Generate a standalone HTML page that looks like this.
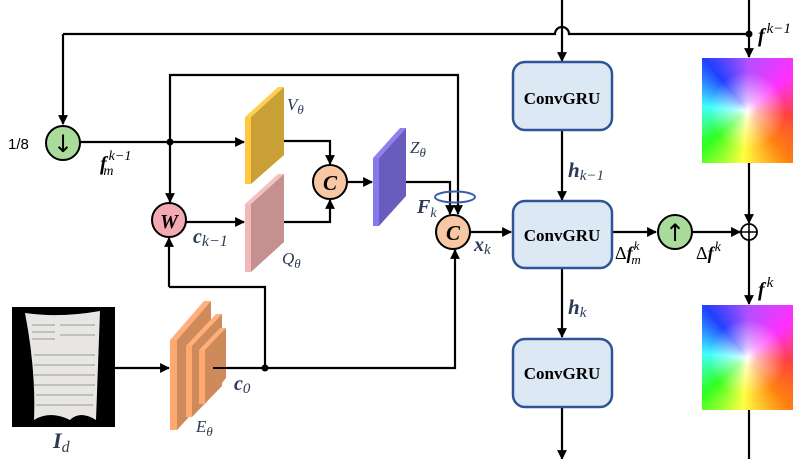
<!DOCTYPE html>
<html><head><meta charset="utf-8"><style>
body{margin:0;background:#fff;width:806px;height:459px;overflow:hidden;position:relative;font-family:"Liberation Serif",serif}
.cw{position:absolute;width:91px;height:105px;background:radial-gradient(circle at 50% 50%,rgba(255,255,255,1) 0,rgba(255,255,255,0.6) 15%,rgba(255,255,255,0) 55%),conic-gradient(from 0deg at 50% 50%,#b050ff,#ff30ff 50deg,#ff4040 95deg,#ff8010 140deg,#ffff40 185deg,#30ff20 230deg,#40ffff 275deg,#2040ff 320deg,#b050ff 360deg)}
svg{position:absolute;left:0;top:0}
</style></head><body>
<div class="cw" style="left:702px;top:58px"></div>
<div class="cw" style="left:702px;top:305px"></div>
<svg width="806" height="459" viewBox="0 0 806 459">
<defs><marker id="a" viewBox="0 0 10 10" refX="9" refY="5" markerWidth="4.5" markerHeight="4.5" orient="auto"><path d="M0,0L10,5L0,10z" fill="#000"/></marker></defs>
<g stroke="#000" stroke-width="2.2" fill="none">
<path d="M63,34H555A7,7 0 0 1 569,34H749"/>
<path d="M63,34V124" marker-end="url(#a)"/>
<path d="M562,0V61" marker-end="url(#a)"/>
<path d="M749,0V57" marker-end="url(#a)"/>
<path d="M749,163V223" marker-end="url(#a)"/>
<path d="M749,239V304" marker-end="url(#a)"/>
<path d="M749,410V459"/>
<path d="M80,142H244" marker-end="url(#a)"/>
<path d="M170,142V75H458V214" marker-end="url(#a)"/>
<path d="M170,142V202" marker-end="url(#a)"/>
<path d="M268,141H330V164" marker-end="url(#a)"/>
<path d="M268,222H330V200" marker-end="url(#a)"/>
<path d="M347,182H372" marker-end="url(#a)"/>
<path d="M405,182H450V214" marker-end="url(#a)"/>
<path d="M186,222H244" marker-end="url(#a)"/>
<path d="M169,287H265V368"/>
<path d="M169,287V238" marker-end="url(#a)"/>
<path d="M213,368H455V250" marker-end="url(#a)"/>
<path d="M115,368H169" marker-end="url(#a)"/>
<path d="M470,232H511" marker-end="url(#a)"/>
<path d="M562,130V200" marker-end="url(#a)"/>
<path d="M562,268V337" marker-end="url(#a)"/>
<path d="M562,407V459" marker-end="url(#a)"/>
<path d="M612,232H656" marker-end="url(#a)"/>
<path d="M692,232H740" marker-end="url(#a)"/>
</g>
<g fill="#000"><circle cx="170" cy="142" r="3.5"/><circle cx="265" cy="368" r="3.5"/><circle cx="749" cy="34" r="3.5"/></g>
<polygon points="245,117 278,87 284,87 251,117" fill="#ffd050"/><polygon points="245,117 251,117 251,184 245,184" fill="#ffc840"/>
<polygon points="251,117 284,87 284,155 251,184" fill="#c9a035"/>
<polygon points="245,204 278,174 284,174 251,204" fill="#f4c0c0"/><polygon points="245,204 251,204 251,272 245,272" fill="#f0b8b8"/>
<polygon points="251,204 284,174 284,242 251,272" fill="#c49090"/>
<polygon points="373,158 400,128 406,128 379,158" fill="#9080f0"/><polygon points="373,158 379,158 379,226 373,226" fill="#8878ee"/>
<polygon points="379,158 406,128 406,196 379,226" fill="#6a5cbc"/>
<g>
<polygon points="170,340 204,301 211,301 177,340" fill="#ffb07a"/><polygon points="170,340 177,340 177,430 170,430" fill="#ffa870"/><polygon points="177,340 211,301 211,393 177,430" fill="#cf8a5c"/>
<polygon points="186,346 216,314 222,314 192,346" fill="#ffb07a"/><polygon points="186,346 192,346 192,417 186,417" fill="#ffa870"/><polygon points="192,346 222,314 222,386 192,417" fill="#cf8a5c"/>
<polygon points="199,350 220,328 226,328 205,350" fill="#ffb07a"/><polygon points="199,350 205,350 205,404 199,404" fill="#ffa870"/><polygon points="205,350 226,328 226,378 205,404" fill="#cf8a5c"/>
</g>
<line x1="213" y1="368" x2="226" y2="368" stroke="#000" stroke-width="2"/>
<rect x="12" y="307" width="103" height="120" fill="#000"/>
<path d="M25,313Q60,318 100,311L96,420Q80,410 70,420Q50,410 34,420Q36,370 25,313z" fill="#e8e6e4"/>
<g stroke="#999" stroke-width="1"><line x1="32" y1="325" x2="55" y2="325"/><line x1="32" y1="332" x2="55" y2="332"/><line x1="32" y1="339" x2="55" y2="339"/><line x1="60" y1="325" x2="95" y2="325"/><line x1="60" y1="335" x2="95" y2="335"/><line x1="34" y1="355" x2="95" y2="355"/><line x1="34" y1="365" x2="95" y2="365"/><line x1="34" y1="375" x2="95" y2="375"/><line x1="34" y1="385" x2="95" y2="385"/><line x1="36" y1="395" x2="93" y2="395"/><line x1="36" y1="405" x2="93" y2="405"/></g>
<circle cx="63" cy="143" r="17" fill="#a9dc9a" stroke="#000" stroke-width="2"/>
<text x="63" y="152" font-size="24" text-anchor="middle" font-family="DejaVu Sans">↓</text>
<circle cx="675" cy="232" r="17" fill="#a9dc9a" stroke="#000" stroke-width="2"/>
<text x="675" y="241" font-size="24" text-anchor="middle" font-family="DejaVu Sans">↑</text>
<circle cx="169" cy="220" r="17" fill="#f4aab4" stroke="#000" stroke-width="2"/>
<text x="169" y="228" font-size="20" font-weight="bold" font-style="italic" text-anchor="middle">W</text>
<circle cx="330" cy="182" r="17" fill="#f8c8a4" stroke="#000" stroke-width="2"/>
<text x="330" y="190" font-size="21" font-weight="bold" font-style="italic" text-anchor="middle">C</text>
<circle cx="453" cy="232" r="17" fill="#f8c8a4" stroke="#000" stroke-width="2"/>
<text x="453" y="240" font-size="21" font-weight="bold" font-style="italic" text-anchor="middle">C</text>
<circle cx="749" cy="232" r="8" fill="#fff" stroke="#000" stroke-width="1.8"/>
<path d="M741,232H757M749,224V240" stroke="#000" stroke-width="1.6"/>
<ellipse cx="455" cy="197" rx="20" ry="5.5" fill="none" stroke="#3a5fa8" stroke-width="2"/>
<g fill="#dde8f5" stroke="#2f5597" stroke-width="2.5">
<rect x="513" y="62" width="99" height="68" rx="12"/><rect x="513" y="201" width="99" height="67" rx="12"/><rect x="513" y="339" width="99" height="68" rx="12"/></g>
<g font-size="17" font-weight="bold" text-anchor="middle" font-family="Liberation Serif">
<text x="562" y="104">ConvGRU</text><text x="562" y="241">ConvGRU</text><text x="562" y="379">ConvGRU</text></g>
<g font-style="italic" fill="#2d3a55" font-size="20">
<text x="8" y="149" font-style="normal" fill="#000" font-size="15" font-family="Liberation Sans">1/8</text>
<text x="100" y="170" font-weight="bold" fill="#000">f<tspan font-size="14" dx="2" dy="-10" font-weight="normal">k−1</tspan><tspan font-size="14" dx="-28" dy="15" font-weight="normal">m</tspan></text>
<text x="287" y="110" font-size="17">V<tspan font-size="13" dy="4">θ</tspan></text>
<text x="282" y="264" font-size="17">Q<tspan font-size="13" dy="4">θ</tspan></text>
<text x="410" y="153" font-size="17">Z<tspan font-size="13" dy="4">θ</tspan></text>
<text x="417" y="213" font-weight="bold">F<tspan font-size="14" dy="4" font-weight="normal">k</tspan></text>
<text x="193" y="243" font-weight="bold">c<tspan font-size="16" dy="3" font-weight="normal">k−1</tspan></text>
<text x="234" y="390" font-weight="bold">c<tspan font-size="15" dy="3" font-weight="normal">0</tspan></text>
<text x="196" y="432" font-size="17">E<tspan font-size="13" dy="4">θ</tspan></text>
<text x="53" y="448" font-weight="bold" font-size="22">I<tspan font-size="16" dy="4" font-weight="normal">d</tspan></text>
<text x="474" y="251" font-weight="bold">x<tspan font-size="15" dy="3" font-weight="normal">k</tspan></text>
<text x="568" y="177" font-weight="bold" font-size="21">h<tspan font-size="15" dy="3" font-weight="normal">k−1</tspan></text>
<text x="568" y="314" font-weight="bold" font-size="21">h<tspan font-size="15" dy="3" font-weight="normal">k</tspan></text>
<text x="615" y="259" fill="#000" font-style="normal" font-size="18">Δ<tspan font-style="italic" font-weight="bold">f</tspan><tspan font-style="italic" font-size="13" dx="1" dy="-9">k</tspan><tspan font-style="italic" font-size="13" dx="-8" dy="14">m</tspan></text>
<text x="696" y="259" fill="#000" font-style="normal" font-size="18">Δ<tspan font-style="italic" font-weight="bold">f</tspan><tspan font-style="italic" font-size="14" dx="1" dy="-8">k</tspan></text>
<text x="758" y="296" fill="#000" font-weight="bold">f<tspan font-size="15" dx="2" dy="-9" font-weight="normal">k</tspan></text>
<text x="758" y="42" fill="#000" font-weight="bold">f<tspan font-size="15" dx="2" dy="-9" font-weight="normal">k−1</tspan></text>
</g>
</svg>
</body></html>
